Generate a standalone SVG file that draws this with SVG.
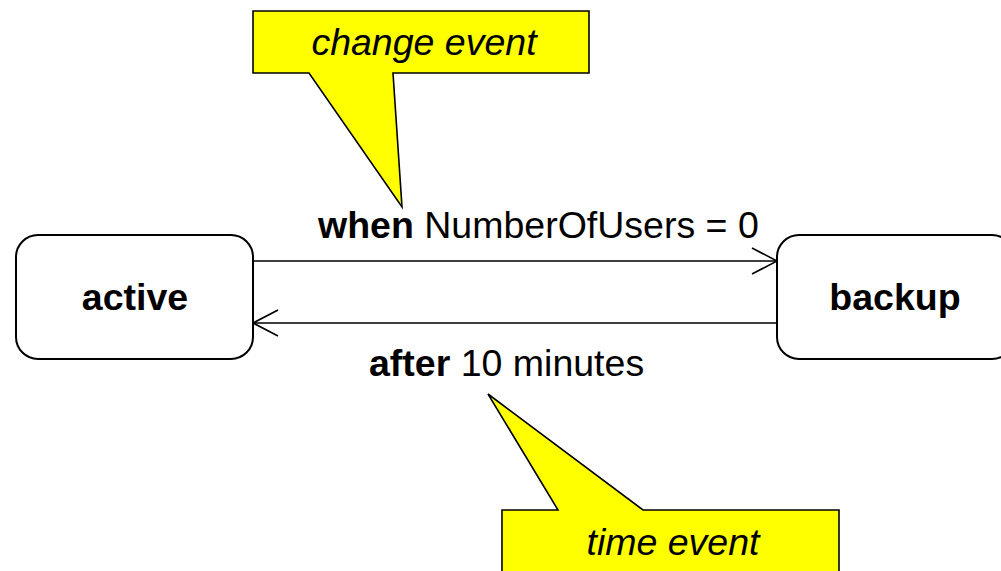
<svg xmlns="http://www.w3.org/2000/svg" width="1001" height="571" viewBox="0 0 1001 571">
  <style>
    .state { fill: #ffffff; stroke: #000000; stroke-width: 2; }
    .state-name { font-family: "Liberation Sans", Arial, sans-serif; font-size: 37.5px; font-weight: bold; text-anchor: middle; fill: #000000; }
    .edge { fill: none; stroke: #000000; stroke-width: 1.6; }
    .edge-label { font-family: "Liberation Sans", Arial, sans-serif; font-size: 37.5px; fill: #000000; }
    .edge-label .kw { font-weight: bold; }
    .note { fill: #ffff00; stroke: #000000; stroke-width: 1.6; stroke-linejoin: miter; }
    .note-text { font-family: "Liberation Sans", Arial, sans-serif; font-size: 37.5px; font-style: italic; text-anchor: middle; fill: #000000; }
  </style>
  <defs>
    <marker id="open-arrow" viewBox="0 0 30 30" refX="26" refY="15" markerWidth="30" markerHeight="30" markerUnits="userSpaceOnUse" orient="auto">
      <path d="M1,2 L26,15 L1,28" fill="none" stroke="#000000" stroke-width="1.6"/>
    </marker>
  </defs>

  <rect width="1001" height="571" fill="#ffffff"/>

  <!-- transitions -->
  <g id="connectors">
    <line class="edge" x1="253" y1="261" x2="777" y2="261" marker-end="url(#open-arrow)"/>
    <line class="edge" x1="777" y1="323" x2="253" y2="323" marker-end="url(#open-arrow)"/>
    <text class="edge-label" x="318" y="238"><tspan class="kw">when</tspan> NumberOfUsers = 0</text>
    <text class="edge-label" x="369" y="376"><tspan class="kw">after</tspan> 10 minutes</text>
  </g>

  <!-- states -->
  <g id="state-active">
    <rect class="state" x="16" y="235" width="237" height="124" rx="22" ry="22"/>
    <text class="state-name" x="135" y="310">active</text>
  </g>
  <g id="state-backup">
    <rect class="state" x="777" y="235" width="237" height="124" rx="22" ry="22"/>
    <text class="state-name" x="895" y="310">backup</text>
  </g>

  <!-- comment callouts -->
  <g id="note-change-event">
    <path class="note" d="M253,11 L589,11 L589,73 L393,73 L402,207 L309,73 L253,73 Z"/>
    <text class="note-text" x="424" y="55">change event</text>
  </g>
  <g id="note-time-event">
    <path class="note" d="M502,510 L558,510 L488,394 L643,510 L839,510 L839,580 L502,580 Z"/>
    <text class="note-text" x="673" y="555">time event</text>
  </g>
</svg>
